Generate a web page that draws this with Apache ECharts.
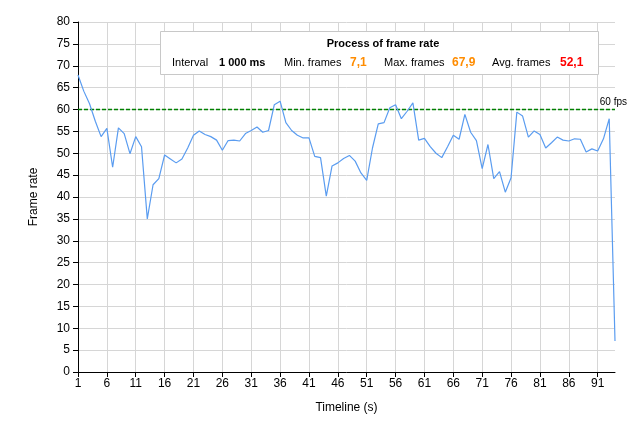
<!DOCTYPE html>
<html>
<head>
<meta charset="utf-8">
<script src="https://cdn.jsdelivr.net/npm/echarts@6/dist/echarts.min.js"></script>
<style>html,body{margin:0;padding:0;background:#fff}#c{width:635px;height:432px}</style>
</head>
<body>
<div id="c"></div>
<script>
var timeline = [1,2,3,4,5,6,7,8,9,10,11,12,13,14,15,16,17,18,19,20,21,22,23,24,25,26,27,28,29,30,31,32,33,34,35,36,37,38,39,40,41,42,43,44,45,46,47,48,49,50,51,52,53,54,55,56,57,58,59,60,61,62,63,64,65,66,67,68,69,70,71,72,73,74,75,76,77,78,79,80,81,82,83,84,85,86,87,88,89,90,91,92,93,94];
var frameRate = [67.9,64.2,61.3,57.3,53.8,55.7,46.8,55.8,54.5,49.9,
  53.8,51.5,35.0,42.8,44.2,49.6,48.7,47.8,48.7,51.2,
  54.1,55.1,54.3,53.8,53.0,50.7,52.9,53.0,52.8,54.5,
  55.2,56.0,54.8,55.2,61.1,61.9,57.0,55.2,54.1,53.5,
  53.5,49.3,49.0,40.2,47.1,47.8,48.8,49.5,48.2,45.5,
  43.8,51.2,56.7,57.0,60.4,61.1,57.9,59.6,61.5,53.0,
  53.4,51.5,50.0,49.0,51.5,54.1,53.2,58.9,54.8,52.9,
  46.5,52.0,44.2,45.8,41.1,44.4,59.4,58.5,53.7,55.1,
  54.3,51.2,52.4,53.7,53.0,52.8,53.3,53.2,50.3,51.0,
  50.5,53.3,57.9,7.1];
var targetFps = 60;
var titleText = 'Process of frame rate';
var infoLabels = ['Interval', 'Min. frames', 'Max. frames', 'Avg. frames'];
var infoValues = ['1 000 ms', '7,1', '67,9', '52,1'];

var FONT = '"Liberation Sans", Arial, sans-serif';
var chart = echarts.init(document.getElementById('c'), null, {renderer: 'canvas'});
var every5 = function (idx) { return idx % 5 === 0; };

function txt(x, y, s, opt) {
  return {type: 'text', x: x, y: y, z: 20, style: Object.assign({text: s, font: '11px ' + FONT, fill: '#000', textVerticalAlign: 'middle'}, opt || {})};
}

chart.setOption({
  animation: false,
  backgroundColor: '#fff',
  grid: {left: 78, right: 20, top: 22, bottom: 60, containLabel: false},
  xAxis: {
    type: 'category',
    data: timeline,
    boundaryGap: false,
    name: 'Timeline (s)',
    nameLocation: 'middle',
    nameGap: 30,
    nameTextStyle: {color: '#000', fontSize: 12, fontFamily: FONT},
    axisLine: {lineStyle: {color: '#000', width: 1}},
    axisTick: {show: true, interval: every5, length: 5, lineStyle: {color: '#000'}},
    axisLabel: {interval: every5, color: '#000', fontSize: 12, fontFamily: FONT, margin: 6},
    splitLine: {show: true, interval: every5, lineStyle: {color: '#d6d6d6', width: 1}}
  },
  yAxis: {
    type: 'value',
    min: 0, max: 80, interval: 5,
    name: 'Frame rate',
    nameLocation: 'middle',
    nameGap: 38,
    nameRotate: 90,
    nameTextStyle: {color: '#000', fontSize: 12, fontFamily: FONT},
    axisLine: {show: true, lineStyle: {color: '#000', width: 1}},
    axisTick: {show: true, length: 5, lineStyle: {color: '#000'}},
    axisLabel: {color: '#000', fontSize: 12, fontFamily: FONT, margin: 8},
    splitLine: {show: true, lineStyle: {color: '#d6d6d6', width: 1}}
  },
  series: [{
    type: 'line',
    data: frameRate,
    showSymbol: false,
    symbol: 'none',
    lineStyle: {color: '#5a9cf0', width: 1.2},
    itemStyle: {color: '#5a9cf0'},
    z: 5,
    markLine: {
      silent: true,
      symbol: ['none', 'none'],
      lineStyle: {color: '#008000', type: [4, 2], width: 1.3, opacity: 1},
      emphasis: {disabled: true},
      label: {
        show: true,
        position: 'insideEndTop',
        formatter: targetFps + ' fps',
        color: '#000',
        fontSize: 10,
        fontFamily: FONT,
        offset: [17, 3]
      },
      data: [{yAxis: targetFps, lineStyle: {color: '#008000'}}]
    }
  }],
  graphic: [
    {type: 'rect', z: 15, shape: {x: 160.5, y: 31.5, width: 438, height: 43}, style: {fill: '#fff', stroke: '#c8c8c8', lineWidth: 1}},
    txt(383, 44, titleText, {font: 'bold 11px ' + FONT, textAlign: 'center'}),
    txt(172, 62.5, infoLabels[0]),
    txt(219, 62.5, infoValues[0], {font: 'bold 11px ' + FONT}),
    txt(284, 62.5, infoLabels[1]),
    txt(350, 62.5, infoValues[1], {font: 'bold 12px ' + FONT, fill: '#ff8c00'}),
    txt(384, 62.5, infoLabels[2]),
    txt(452, 62.5, infoValues[2], {font: 'bold 12px ' + FONT, fill: '#ff8c00'}),
    txt(492, 62.5, infoLabels[3]),
    txt(560, 62.5, infoValues[3], {font: 'bold 12px ' + FONT, fill: '#ff0000'})
  ]
});
</script>
</body>
</html>
